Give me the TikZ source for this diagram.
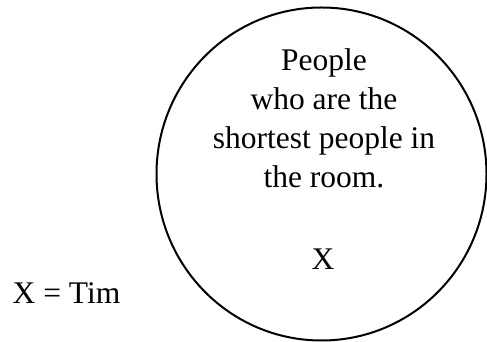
\documentclass[tikz,border=0pt]{standalone}
\usepackage{fontspec}
\setmainfont{Liberation Serif}
\usetikzlibrary{shapes.geometric}
\begin{document}
\begin{tikzpicture}[x=1pt,y=1pt,
  lbl/.style={inner sep=0pt,font=\fontsize{31.5}{39.3}\selectfont}]
\useasboundingbox (0,0) rectangle (487,342);
\node[draw,line width=2pt,ellipse,minimum width=330pt,minimum height=333pt,inner sep=0pt] (c) at (321.5,168) {};
\node[lbl,anchor=base,align=center] (t) at (324,154) {People\\who are the\\shortest people in\\the room.};
\node[lbl,anchor=base] (x) at (323,72) {X};
\node[lbl,anchor=base west] (tim) at (12.5,38) {X = Tim};
\end{tikzpicture}
\end{document}
